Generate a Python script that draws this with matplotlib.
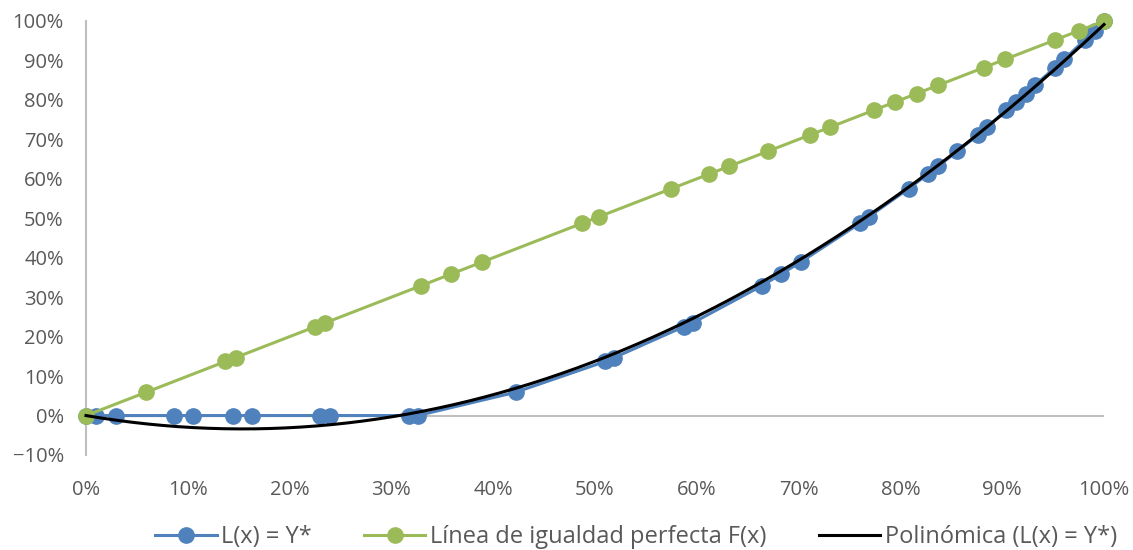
import numpy as np
import matplotlib.pyplot as plt
from matplotlib.ticker import PercentFormatter

# datos (en fraccion)
x_lorenz = [0.0, 0.010, 0.029, 0.086, 0.105, 0.144, 0.163, 0.230, 0.240, 0.317, 0.326,
            0.422, 0.510, 0.519, 0.587, 0.596, 0.664, 0.683, 0.702, 0.760, 0.769,
            0.808, 0.827, 0.837, 0.856, 0.876, 0.885, 0.904, 0.914, 0.923, 0.932,
            0.952, 0.961, 0.981, 0.991, 1.0]
y_lorenz = [0.0, 0.0, 0.0, 0.0, 0.0, 0.0, 0.0, 0.0, 0.0, 0.0, 0.0,
            0.059, 0.137, 0.147, 0.225, 0.235, 0.329, 0.359, 0.389, 0.487, 0.504,
            0.575, 0.612, 0.632, 0.670, 0.711, 0.731, 0.774, 0.795, 0.816, 0.837,
            0.882, 0.903, 0.952, 0.975, 1.0]
x_igualdad = [0.0, 0.059, 0.137, 0.147, 0.225, 0.235, 0.329, 0.359, 0.389, 0.487, 0.504,
              0.575, 0.612, 0.632, 0.670, 0.711, 0.731, 0.774, 0.795, 0.816, 0.837,
              0.882, 0.903, 0.952, 0.975, 1.0]
y_igualdad = x_igualdad

azul = '#4F81BD'
verde = '#9BBB59'
gris = '#595959'

plt.rcParams['font.family'] = ['Open Sans', 'DejaVu Sans']

fig = plt.figure(figsize=(11.33, 5.5), dpi=100)
ax = fig.add_axes([86/1133, 95/550, 1018/1133, 434/550])

# tendencia polinomica de orden 2 con interseccion en 0, ajustada a L(x)
xl = np.array(x_lorenz)
A = np.column_stack([xl**2, xl])
(a, b), *_ = np.linalg.lstsq(A, np.array(y_lorenz), rcond=None)
xs = np.linspace(0, 1, 200)

ax.plot(x_lorenz, y_lorenz, color=azul, lw=2.2, marker='o', ms=11, clip_on=False,
        label='L(x) = Y*', zorder=3)
ax.plot(x_igualdad, y_igualdad, color=verde, lw=2.2, marker='o', ms=11, clip_on=False,
        label='Línea de igualdad perfecta F(x)', zorder=4)
ax.plot(xs, a * xs**2 + b * xs, color='black', lw=2.2, clip_on=False,
        label='Polinómica (L(x) = Y*)', zorder=5)

ax.set_xlim(0, 1)
ax.set_ylim(-0.1, 1.0)
ax.set_xticks(np.arange(0, 1.01, 0.1))
ax.set_yticks(np.arange(-0.1, 1.01, 0.1))
ax.xaxis.set_major_formatter(PercentFormatter(1.0, decimals=0))
ax.yaxis.set_major_formatter(PercentFormatter(1.0, decimals=0))
ax.tick_params(axis='both', length=0, labelsize=14.5, colors=gris)
ax.tick_params(axis='x', pad=18)
ax.tick_params(axis='y', pad=16)

for s in ['top', 'right', 'bottom']:
    ax.spines[s].set_visible(False)
ax.spines['left'].set_color('#BFBFBF')
ax.spines['left'].set_linewidth(1.5)
ax.axhline(0, color='#BFBFBF', lw=1.5, zorder=1)

fig.legend(loc='center', bbox_to_anchor=(636/1133, 1 - 537/550), ncol=3, frameon=False,
           fontsize=17, handlelength=2.6, columnspacing=2.2, handletextpad=0.2,
           labelcolor=gris)

fig.savefig('out.png', dpi=100)
